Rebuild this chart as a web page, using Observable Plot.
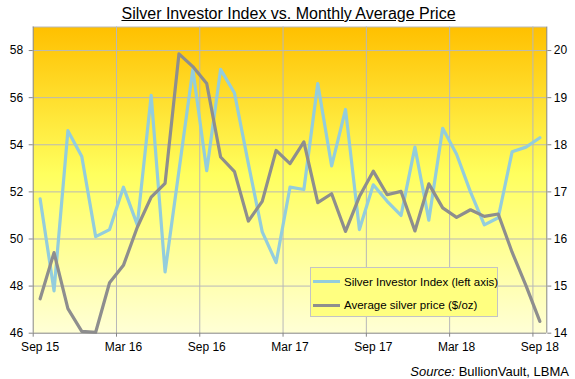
<!DOCTYPE html>
<html>
<head>
<meta charset="utf-8">
<script src="https://cdn.jsdelivr.net/npm/d3@7"></script>
<script src="https://cdn.jsdelivr.net/npm/@observablehq/plot@0.6"></script>
<style>
  body { margin: 0; background: #fff; }
  #wrap { position: relative; width: 575px; height: 379px; overflow: hidden; font-family: "Liberation Sans", Arial, sans-serif; }
  #chart { position: absolute; left: 0; top: 0; }
  #title { position: absolute; left: 1px; top: 5px; width: 575px; text-align: center; font-size: 16px; line-height: 18px; text-decoration: underline; color: #000; }
  #source { position: absolute; right: 6px; top: 364px; font-size: 13px; line-height: 15px; color: #000; }
  #legend { position: absolute; left: 310px; top: 267px; width: 186px; height: 48px; background: #FFFF80; border: 1px solid #c4c4c4; font-size: 11.5px; }
  .row { position: absolute; left: 2px; height: 14px; display: flex; align-items: center; white-space: nowrap; }
  .sw { width: 27px; height: 3px; margin-right: 4px; }
</style>
</head>
<body>
<div id="wrap">
  <div id="chart"></div>
  <div id="title">Silver Investor Index vs. Monthly Average Price</div>
  <div id="legend">
    <div class="row" style="top:6.5px"><div class="sw" style="background:#93CDDD"></div>Silver Investor Index (left axis)</div>
    <div class="row" style="top:30px"><div class="sw" style="background:#8E8E8E"></div>Average silver price ($/oz)</div>
  </div>
  <div id="source"><i>Source:</i> BullionVault, LBMA</div>
</div>
<script>
// Months Sep 2015 .. Sep 2018
const months = ["Sep 15","Oct 15","Nov 15","Dec 15","Jan 16","Feb 16","Mar 16","Apr 16","May 16","Jun 16","Jul 16","Aug 16",
  "Sep 16","Oct 16","Nov 16","Dec 16","Jan 17","Feb 17","Mar 17","Apr 17","May 17","Jun 17","Jul 17","Aug 17",
  "Sep 17","Oct 17","Nov 17","Dec 17","Jan 18","Feb 18","Mar 18","Apr 18","May 18","Jun 18","Jul 18","Aug 18","Sep 18"];
// Silver Investor Index (left axis)
const investorIndex = [51.7, 47.8, 54.6, 53.5, 50.1, 50.4, 52.2, 50.6, 56.1, 48.6, 52.9, 57.2,
  52.9, 57.2, 56.2, 53.2, 50.3, 49.0, 52.2, 52.1, 56.6, 53.1, 55.5, 50.4,
  52.3, 51.6, 51.0, 53.9, 50.8, 54.7, 53.6, 52.0, 50.6, 50.9, 53.7, 53.9, 54.3];
// Average silver price $/oz (right axis)
const silverPrice = [14.73, 15.71, 14.52, 14.04, 14.02, 15.07, 15.44, 16.25, 16.89, 17.18, 19.93, 19.66,
  19.30, 17.74, 17.43, 16.38, 16.80, 17.88, 17.60, 18.06, 16.77, 16.96, 16.16, 16.90,
  17.44, 16.94, 17.01, 16.17, 17.17, 16.66, 16.46, 16.62, 16.48, 16.53, 15.72, 15.01, 14.25];
const leftTicks = [46, 48, 50, 52, 54, 56, 58];
const rightTicks = [14, 15, 16, 17, 18, 19, 20];
const xTickLabels = ["Sep 15", "Mar 16", "Sep 16", "Mar 17", "Sep 17", "Mar 18", "Sep 18"];

const leftMin = 46, leftMax = 59, rightMin = 14, rightMax = 20.5;
const toLeft = p => leftMin + (p - rightMin) * (leftMax - leftMin) / (rightMax - rightMin);
const toRight = v => rightMin + (v - leftMin) * (rightMax - rightMin) / (leftMax - leftMin);

const idxData = investorIndex.map((v, i) => ({x: i + 0.5, v, m: months[i]}));
const priceData = silverPrice.map((p, i) => ({x: i + 0.5, v: toLeft(p), m: months[i]}));
const labelPos = xTickLabels.map((d, k) => months.indexOf(d));
const boundaryTicks = labelPos;                 // tick marks at category boundaries
const centerTicks = labelPos.map(i => i + 0.5); // labels at category centers

const axisGray = "#868686", gridGray = "#b8b8b8";

const chart = Plot.plot({
  width: 575, height: 379,
  marginTop: 26.5, marginBottom: 46.3, marginLeft: 32.7, marginRight: 28.7,
  style: {fontFamily: "'Liberation Sans', Arial, sans-serif", fontSize: "12px", color: "#000", background: "transparent", overflow: "visible"},
  x: {domain: [0, months.length], label: null},
  y: {domain: [leftMin, leftMax], label: null},
  marks: [
    Plot.frame({fill: "url(#bgGrad)", stroke: "none"}),
    Plot.gridY(leftTicks.slice(1), {stroke: gridGray, strokeOpacity: 1}),
    Plot.gridX(boundaryTicks.slice(1), {stroke: gridGray, strokeOpacity: 1}),
    Plot.ruleY([leftMax], {stroke: gridGray}),
    Plot.line(idxData, {x: "x", y: "v", stroke: "#93CDDD", strokeWidth: 3.2, strokeLinejoin: "round"}),
    Plot.line(priceData, {x: "x", y: "v", stroke: "#8E8E8E", strokeWidth: 3.2, strokeLinejoin: "round"}),
    Plot.ruleX([0], {stroke: axisGray}),
    Plot.ruleX([months.length], {stroke: axisGray}),
    Plot.ruleY([leftMin], {stroke: axisGray}),
    Plot.axisY({ticks: leftTicks, tickSize: 4, tickPadding: 6, stroke: axisGray, fill: "#000", label: null}),
    Plot.axisY({anchor: "right", ticks: rightTicks.map(toLeft), tickFormat: d => String(Math.round(toRight(d))), tickSize: 4, tickPadding: 3, stroke: axisGray, fill: "#000", label: null}),
    Plot.axisX({ticks: boundaryTicks, tickSize: 4, tickFormat: () => "", stroke: axisGray, label: null}),
    Plot.axisX({ticks: centerTicks, tickSize: 0, tickPadding: 9, tickFormat: d => xTickLabels[centerTicks.indexOf(d)], fill: "#000", label: null})
  ]
});

const svg = d3.select(chart);
const grad = svg.insert("defs", ":first-child").append("linearGradient")
  .attr("id", "bgGrad").attr("x1", 0).attr("y1", 0).attr("x2", 0).attr("y2", 1);
grad.append("stop").attr("offset", "0%").attr("stop-color", "#FFC000");
grad.append("stop").attr("offset", "48%").attr("stop-color", "#FFFF5E");
grad.append("stop").attr("offset", "100%").attr("stop-color", "#FFFFD6");
svg.selectAll('[aria-label="frame"]').each(function() {
  const el = d3.select(this);
  (this.tagName === "rect" ? el : el.selectAll("rect")).attr("fill", "url(#bgGrad)");
});
document.getElementById("chart").appendChild(chart);
</script>
</body>
</html>
